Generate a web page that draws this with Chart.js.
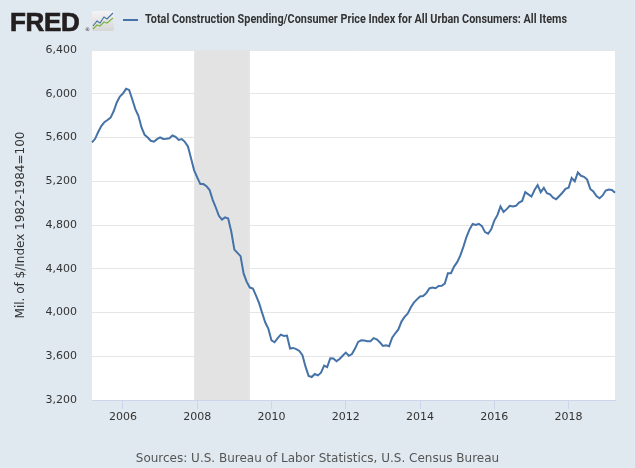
<!DOCTYPE html>
<html>
<head>
<meta charset="utf-8">
<script src="https://cdn.jsdelivr.net/npm/chart.js@4/dist/chart.umd.min.js"></script>
<style>
  body { margin: 0; background: #e1e9f0; }
  #wrap { position: relative; width: 635px; height: 468px; background: #e1e9f0; overflow: hidden; }
  #chart { position: absolute; left: 0; top: 0; }
  #logo { position: absolute; left: 10px; top: 7px; font: bold 26px "Liberation Sans", Arial, sans-serif; letter-spacing: -0.3px; color: #231f20; -webkit-text-stroke: 0.7px #231f20; }
  #reg { position: absolute; left: 85px; top: 26px; font: 5px "DejaVu Sans", sans-serif; color: #231f20; }
  #icon { position: absolute; left: 92px; top: 11px; }
  #legendLine { position: absolute; left: 123px; top: 19px; width: 15px; height: 2px; background: #4572a7; }
  #legendText { position: absolute; left: 145px; top: 12px; font: bold 12px "Liberation Sans Narrow", "Roboto", sans-serif; color: #333; white-space: nowrap; transform-origin: 0 0; }
  #source { position: absolute; left: 0; width: 635px; top: 451px; text-align: center; font: 12px "DejaVu Sans", sans-serif; color: #555; }
</style>
</head>
<body>
<div id="wrap">
  <canvas id="chart" width="635" height="468"></canvas>
  <div id="logo">FRED</div>
  <div id="reg">®</div>
  <svg id="icon" width="22" height="20" viewBox="0 0 22 20">
    <defs>
      <linearGradient id="g" x1="0" y1="0" x2="0" y2="1">
        <stop offset="0" stop-color="#f4f4f4"/>
        <stop offset="1" stop-color="#d6d6d6"/>
      </linearGradient>
    </defs>
    <rect x="0" y="0" width="22" height="20" rx="2" fill="url(#g)"/>
    <polyline points="1,15 5,10 8,12 12,6 15,8 21,2" fill="none" stroke="#4572a7" stroke-width="1.2"/>
    <polyline points="1,18 5,14 8,15 12,11 15,12 21,7" fill="none" stroke="#7cb342" stroke-width="1.2"/>
  </svg>
  <div id="legendLine"></div>
  <div id="legendText">Total Construction Spending/Consumer Price Index for All Urban Consumers: All Items</div>
  <div id="source">Sources: U.S. Bureau of Labor Statistics, U.S. Census Bureau</div>
</div>
<script>
// Monatliche Werte, 2005-03 bis 2019-04
const startYear = 2005;
const startMonth = 3;

const spending = [
  5555, 5588, 5650, 5705, 5740, 5760, 5782, 5840, 5920, 5975,
  6002, 6045, 6035, 5950, 5860, 5798, 5692, 5624, 5600, 5570,
  5562, 5585, 5601, 5587, 5588, 5593, 5618, 5606, 5578, 5586,
  5560, 5518, 5410, 5300, 5235, 5174, 5174, 5155, 5120, 5030,
  4960, 4884, 4850, 4870, 4860, 4740, 4575, 4545, 4515, 4355,
  4280, 4228, 4219, 4155, 4085, 3994, 3908, 3850, 3745, 3728,
  3765, 3798, 3786, 3789, 3670, 3676, 3665, 3648, 3610, 3505,
  3420, 3410, 3438, 3425, 3450, 3515, 3500, 3582, 3580, 3555,
  3575, 3605, 3633, 3604, 3620, 3670, 3731, 3745, 3743, 3737,
  3737, 3766, 3755, 3728, 3694, 3700, 3692, 3770, 3810, 3845,
  3917, 3960, 3990, 4045, 4090, 4120, 4146, 4150, 4175, 4220,
  4228, 4222, 4243, 4245, 4265, 4360, 4360, 4420, 4460, 4520,
  4600, 4690, 4760, 4810, 4800, 4811, 4790, 4735, 4720, 4760,
  4840, 4890, 4970, 4920, 4945, 4975, 4970, 4975, 5005, 5020,
  5100, 5080, 5060, 5120, 5165, 5100, 5140, 5090, 5080, 5050,
  5035, 5065, 5095, 5130, 5140, 5230, 5200, 5280, 5250, 5240,
  5215, 5130, 5106, 5065, 5045, 5070, 5115, 5125, 5120, 5095
];

const months = spending.map((v, i) => {
  const n = startMonth - 1 + i;
  const y = startYear + Math.floor(n / 12);
  const m = (n % 12) + 1;
  return y + '-' + String(m).padStart(2, '0');
});

const tickYears = ['2006', '2008', '2010', '2012', '2014', '2016', '2018'];
const yTicks = [3200, 3600, 4000, 4400, 4800, 5200, 5600, 6000, 6400];
const recession = ['2007-12', '2009-06'];

// Hintergrund weiss + Rezessionsband
const backdrop = {
  id: 'backdrop',
  beforeDraw(chart) {
    const { ctx, chartArea: a } = chart;
    ctx.save();
    ctx.fillStyle = '#ffffff';
    ctx.fillRect(a.left, a.top, a.right - a.left, a.bottom - a.top);
    ctx.restore();
  },
  beforeDatasetsDraw(chart) {
    const { ctx, chartArea: a, scales: { x } } = chart;
    const x0 = x.getPixelForValue(months.indexOf(recession[0]));
    const x1 = x.getPixelForValue(months.indexOf(recession[1]));
    ctx.save();
    ctx.fillStyle = '#e3e3e3';
    ctx.fillRect(x0, a.top, x1 - x0, a.bottom - a.top);
    ctx.restore();
  }
};

const ctx = document.getElementById('chart').getContext('2d');
new Chart(ctx, {
  type: 'line',
  data: {
    labels: months,
    datasets: [{
      label: 'Total Construction Spending/Consumer Price Index for All Urban Consumers: All Items',
      data: spending,
      borderColor: '#4572a7',
      borderWidth: 2,
      pointRadius: 0,
      tension: 0,
      fill: false
    }]
  },
  options: {
    responsive: false,
    animation: false,
    devicePixelRatio: 1,
    layout: { padding: { left: 10, right: 20, top: 50, bottom: 48 } },
    plugins: {
      legend: { display: false },
      tooltip: { enabled: false }
    },
    scales: {
      x: {
        type: 'category',
        offset: false,
        afterBuildTicks(scale) {
          scale.ticks = tickYears.map(y => ({ value: months.indexOf(y + '-01') }));
        },
        afterFit(scale) { scale.height = 20; },
        grid: { drawOnChartArea: false, drawTicks: true, tickLength: 9, color: '#ccd6eb' },
        border: { display: true, color: '#ccd6eb' },
        ticks: {
          autoSkip: false,
          maxRotation: 0,
          padding: 2,
          color: '#333',
          font: { family: 'DejaVu Sans', size: 11 },
          callback: (v) => months[v].slice(0, 4)
        }
      },
      y: {
        min: 3200,
        max: 6400,
        afterBuildTicks(scale) {
          scale.ticks = yTicks.map(v => ({ value: v }));
        },
        afterFit(scale) { scale.width = 82; },
        grid: { color: '#e6e6e6', drawTicks: false },
        border: { display: false },
        ticks: {
          padding: 15,
          color: '#333',
          font: { family: 'DejaVu Sans', size: 11 },
          callback: (v) => v.toLocaleString('en-US')
        },
        title: {
          display: true,
          text: 'Mil. of $/Index 1982-1984=100',
          color: '#333',
          font: { family: 'DejaVu Sans', size: 12 }
        }
      }
    }
  },
  plugins: [backdrop]
});

// Legendentext auf Breite bringen
const lt = document.getElementById('legendText');
lt.style.transform = 'scaleX(' + (422 / lt.offsetWidth) + ')';
</script>
</body>
</html>
